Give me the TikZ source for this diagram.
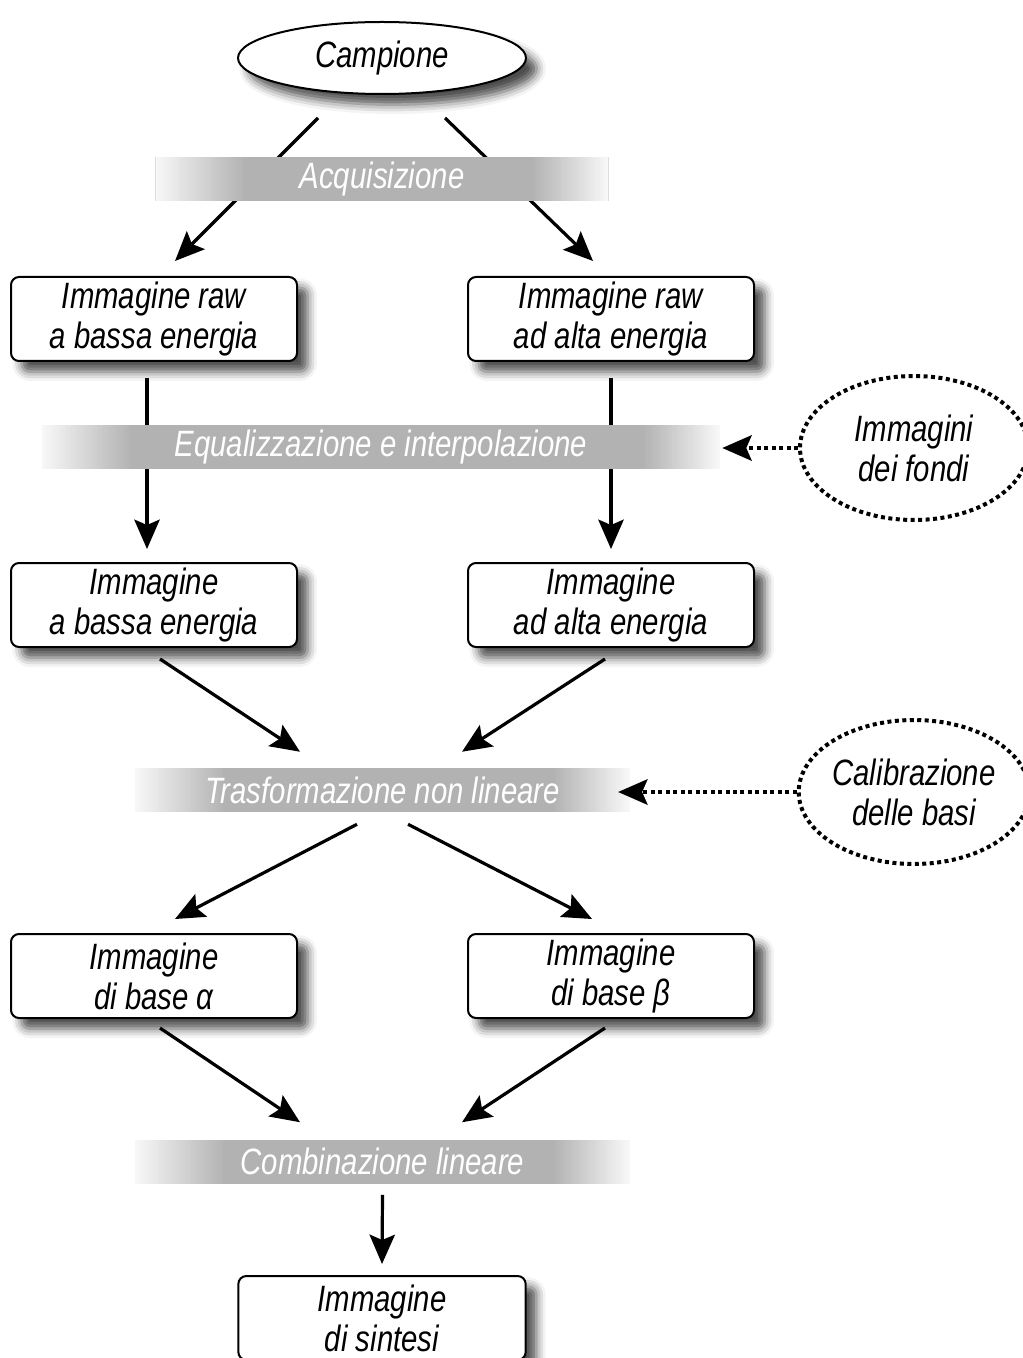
\documentclass[tikz,border=0pt]{standalone}
\usepackage{fontspec}
\setmainfont{Liberation Sans}[FakeStretch=0.80]
\usetikzlibrary{arrows.meta,shapes.geometric,shadows.blur,calc}
\pgfdeclarelayer{fg}
\pgfsetlayers{main,fg}
\definecolor{bandgray}{rgb}{0.70,0.70,0.70}
\definecolor{fadewhite}{rgb}{0.97,0.97,0.97}
\begin{document}
\begin{tikzpicture}[x=0.75pt,y=-0.75pt,
  txt/.style={font=\fontsize{27.5}{30}\selectfont\itshape, align=center},
  shad/.style={blur shadow={shadow xshift=8pt,shadow yshift=-8pt,shadow blur radius=7pt,shadow opacity=70}},
  box/.style={txt, draw=black, line width=1.5pt, rounded corners=6pt, fill=white,
    minimum width=214.5pt, minimum height=63pt, inner sep=0pt, shad},
  startnode/.style={txt, ellipse, draw=black, line width=1.5pt, fill=white,
    minimum width=216pt, minimum height=54pt, inner sep=0pt, shad},
  note/.style={txt, ellipse, draw=black, line width=3pt, dash pattern=on 3pt off 2.6pt,
    minimum width=171pt, minimum height=108pt, inner sep=0pt},
  band/.style={txt, text=white, fill=bandgray, minimum height=33pt, inner sep=0pt,
    path picture={
      \foreach \i in {0,...,33}{
        \pgfmathsetmacro\p{100*\i/33}
        \fill[bandgray!\p!fadewhite]
          ([xshift=\i*2pt]path picture bounding box.south west) rectangle
          ([xshift=\i*2pt+2.2pt]path picture bounding box.north west);
        \fill[bandgray!\p!fadewhite]
          ([xshift=-\i*1.7pt]path picture bounding box.south east) rectangle
          ([xshift=-\i*1.7pt-1.9pt]path picture bounding box.north east);
      }
    }},
  arr/.style={line width=2.4pt, -{Stealth[length=22pt,width=19pt,inset=4pt]}},
  darr/.style={line width=3pt, dash pattern=on 3pt off 2.6pt, -{Stealth[length=22pt,width=19pt,inset=4pt]}}
]
\useasboundingbox (0,0) rectangle (1022,1358);

% nodes
\node[startnode] (camp) at (382,58) {Campione};
\node[box] (raw1) at (154,319) {Immagine raw\\a bassa energia};
\node[box] (raw2) at (611,319) {Immagine raw\\ad alta energia};
\node[box] (img1) at (154,605) {Immagine\\a bassa energia};
\node[box] (img2) at (611,605) {Immagine\\ad alta energia};
\node[box] (base1) at (154,976) {Immagine\\di base α};
\node[box] (base2) at (611,976) {Immagine\\di base β};
\node[box, minimum width=215.5pt] (final) at (382,1318) {Immagine\\di sintesi};
\node[note] (fondi) at (914,448) {Immagini\\dei fondi};
\node[note] (calib) at (914,792) {Calibrazione\\delle basi};

\begin{pgfonlayer}{fg}
\node[band, minimum width=340pt] (acq) at (382,179) {Acquisizione};
\node[band, minimum width=508.5pt] (eq) at (381,447) {Equalizzazione e interpolazione};
\node[band, minimum width=371pt] (trans) at (382.5,790) {Trasformazione non lineare};
\node[band, minimum width=371pt] (comb) at (382.5,1161.5) {Combinazione lineare};
\end{pgfonlayer}

% connectors (behind the bands)
\draw[arr] ([shift={(-64,23)}]camp.south) -- ([shift={(21,-15)}]raw1.north);
\draw[arr] ([shift={(63,23)}]camp.south) -- ([shift={(-18,-15)}]raw2.north);
\draw[arr] ([shift={(-7,16)}]raw1.south) -- ([shift={(-7,-13)}]img1.north);
\draw[arr] ([shift={(0,16)}]raw2.south) -- ([shift={(0,-13)}]img2.north);
\draw[arr] ([shift={(6,11)}]img1.south) -- ([shift={(-82.5,-16)}]trans.north);
\draw[arr] ([shift={(-6,11)}]img2.south) -- ([shift={(79.5,-16)}]trans.north);
\draw[arr] ([shift={(-25.5,12)}]trans.south) -- ([shift={(21,-14)}]base1.north);
\draw[arr] ([shift={(25.5,12)}]trans.south) -- ([shift={(-19,-14)}]base2.north);
\draw[arr] ([shift={(6,9)}]base1.south) -- ([shift={(-82.5,-17)}]comb.north);
\draw[arr] ([shift={(-6,9)}]base2.south) -- ([shift={(79.5,-17)}]comb.north);
\draw[arr] ([shift={(0,11)}]comb.south) -- ([shift={(0,-11)}]final.north);

\begin{pgfonlayer}{fg}
\draw[darr] (fondi.west) -- ([xshift=1.5pt]fondi.west -| eq.east);
\draw[darr] (calib.west) -- ([xshift=-9pt]calib.west -| trans.east);
\end{pgfonlayer}
\end{tikzpicture}
\end{document}
